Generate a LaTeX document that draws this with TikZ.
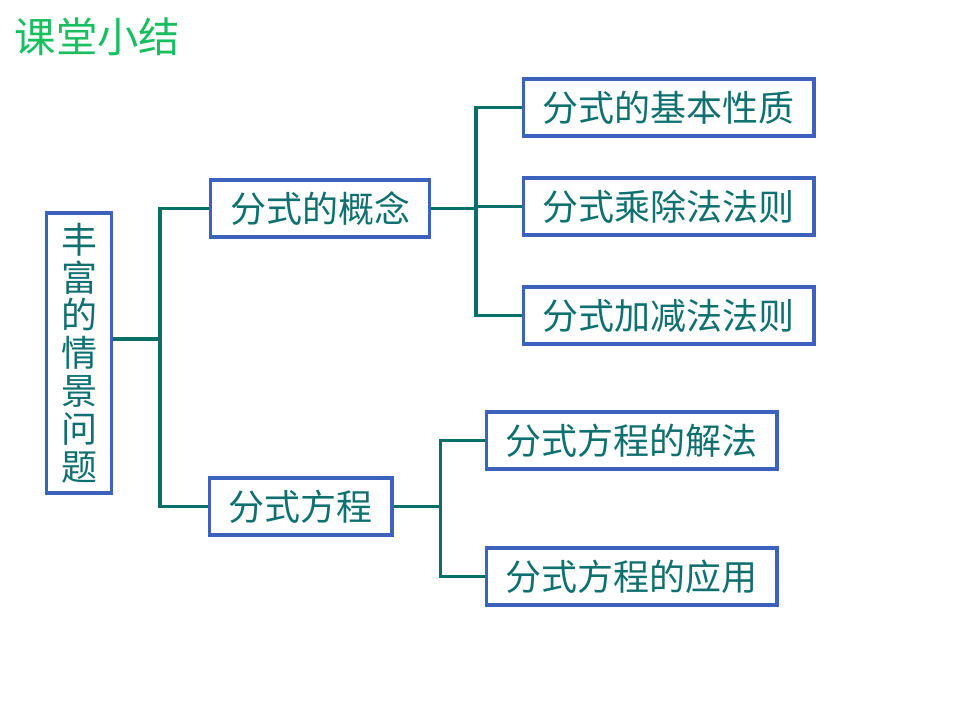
\documentclass[tikz,border=0pt]{standalone}
\usepackage{fontspec}
\newfontfamily\cjk{Noto Sans CJK SC}
\usepackage{tikz}
\definecolor{boxblue}{RGB}{60,98,190}
\definecolor{linkteal}{RGB}{8,112,104}
\definecolor{txtteal}{RGB}{16,112,112}
\definecolor{titlegreen}{RGB}{24,190,96}
\begin{document}
\begin{tikzpicture}[x=0.75pt,y=-0.75pt,
    topic/.style={draw=boxblue,line width=2.5pt,text=txtteal,font=\cjk\fontsize{27}{30}\selectfont,
        minimum height=42.75pt,inner xsep=14.5pt,inner ysep=0pt},
    link/.style={draw=linkteal,line width=2.5pt}]
\useasboundingbox (0,0) rectangle (960,720);
\node[text=titlegreen,font=\cjk\fontsize{31}{33}\selectfont,anchor=west] (title) at (10,37) {课堂小结};
\node[topic,align=center,minimum height=210pt,inner xsep=11pt] (root) at (79,353)
    {丰\\[-1.6pt]富\\[-1.6pt]的\\[-1.6pt]情\\[-1.6pt]景\\[-1.6pt]问\\[-1.6pt]题};
\node[topic] (c1) at (320,208.5) {分式的概念};
\node[topic] (c2) at (300.5,506.5) {分式方程};
\node[topic] (a1) at (668.5,107.5) {分式的基本性质};
\node[topic] (a2) at (668.5,206.5) {分式乘除法法则};
\node[topic] (a3) at (668.5,315.5) {分式加减法法则};
\node[topic] (b1) at (631.5,440.5) {分式方程的解法};
\node[topic] (b2) at (631.5,576.5) {分式方程的应用};
\coordinate (j1) at (160,339);
\draw[link] (root.east |- j1) -- (j1);
\draw[link] (j1) |- (c1.west);
\draw[link] (j1) |- (c2.west);
\draw[link] (c1.east) -- ++(45,0) coordinate (j2);
\draw[link] (j2) |- (a1.west);
\draw[link] (j2) |- (a2.west);
\draw[link] (j2) |- (a3.west);
\draw[link] (c2.east) -- ++(47,0) coordinate (j3);
\draw[link] (j3) |- (b1.west);
\draw[link] (j3) |- (b2.west);
\end{tikzpicture}
\end{document}
